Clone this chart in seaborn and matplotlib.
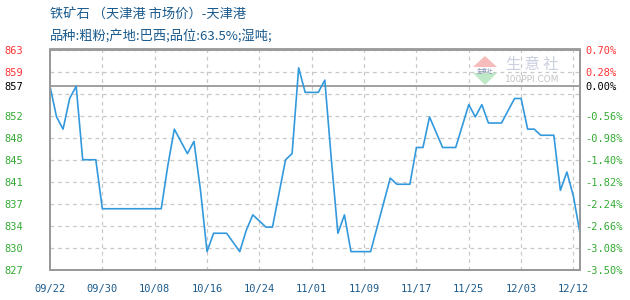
import numpy as np
import pandas as pd
import matplotlib
matplotlib.use("Agg")
import matplotlib.pyplot as plt
import seaborn as sns
from matplotlib.patches import Polygon

# ---------------- data ----------------
title_main = "铁矿石 （天津港 市场价）-天津港"
title_sub = "品种:粗粉;产地:巴西;品位:63.5%;湿吨;"

prices = [857, 852, 850, 855, 857, 845, 845, 845, 837, 837,
          837, 837, 837, 837, 837, 837, 837, 837, 844, 850,
          848, 846, 848, 840, 830, 833, 833, 833, 831.5, 830,
          833.5, 836, 835, 834, 834, 839.5, 845, 846, 860, 856,
          856, 856, 858, 845, 833, 836, 830, 830, 830, 830,
          834, 838, 842, 841, 841, 841, 847, 847, 852, 849.5,
          847, 847, 847, 850.5, 854, 852, 854, 851, 851, 851,
          853, 855, 855, 850, 850, 849, 849, 849, 840, 843,
          839, 833]

date_labels = ["09/22", "09/30", "10/08", "10/16", "10/24", "11/01",
               "11/09", "11/17", "11/25", "12/03", "12/12"]
date_label_index = [0, 8, 16, 24, 32, 40, 48, 56, 64, 72, 80]

base_price = 857
grid_values = [827, 830.6, 834.2, 837.8, 841.4, 845, 848.6, 852.2, 855.8, 859.4, 863]
left_tick_values = [827, 830.6, 834.2, 837.8, 841.4, 845, 848.6, 852.2, 857, 859.4, 863]
left_tick_labels = ["827", "830", "834", "837", "841", "845", "848", "852", "857", "859", "863"]
right_tick_labels = ["-3.50%", "-3.08%", "-2.66%", "-2.24%", "-1.82%", "-1.40%",
                     "-0.98%", "-0.56%", "0.00%", "0.28%", "0.70%"]

# ---------------- style ----------------
sns.set_style("white")
plt.rcParams['font.family'] = ['Noto Sans CJK SC', 'DejaVu Sans']

RED = "#ff3333"
GREEN = "#33aa33"
BLACK = "#000000"
BLUE_TXT = "#1a5a8c"
LINE = "#3399dd"
GRID = "#c8c8c8"
FRAME = "#999999"

fig = plt.figure(figsize=(6.3, 3.0), dpi=100)
ax = fig.add_axes([50/630, 1 - 270/300, 530/630, (270 - 49.5)/300])

df = pd.DataFrame({"idx": np.arange(len(prices)), "price": prices})

# grid
for g in grid_values:
    ax.axhline(g, color=GRID, lw=0.9, ls=(0, (3, 3)), zorder=1)
for xi in date_label_index[1:]:
    ax.axvline(xi, color=GRID, lw=0.9, ls=(0, (3, 3)), zorder=1)
ax.axhline(base_price, color=FRAME, lw=1.3, zorder=2)

sns.lineplot(data=df, x="idx", y="price", ax=ax, color=LINE, lw=1.2, zorder=3)

ax.set_xlim(0, len(prices) - 1)
ax.set_ylim(grid_values[0], grid_values[-1])
ax.set_xlabel("")
ax.set_ylabel("")

mono = "DejaVu Sans Mono"
ax.set_xticks(date_label_index)
ax.set_xticklabels(date_labels, fontsize=7.5, color=BLUE_TXT, family=mono)
ax.set_yticks(left_tick_values)
ax.set_yticklabels(left_tick_labels, fontsize=7.5, family=mono)
ax.tick_params(axis="both", length=0)
ax.tick_params(axis="y", pad=19)
ax.tick_params(axis="x", pad=10)

def label_color(v):
    if v > base_price:
        return RED
    if v == base_price:
        return BLACK
    return GREEN

for lbl, v in zip(ax.get_yticklabels(), left_tick_values):
    lbl.set_color(label_color(v))

ax2 = ax.twinx()
ax2.set_ylim(ax.get_ylim())
ax2.set_yticks(left_tick_values)
ax2.set_yticklabels(right_tick_labels, fontsize=7.5, family=mono)
ax2.tick_params(axis="y", length=0, pad=4)
for lbl, v in zip(ax2.get_yticklabels(), left_tick_values):
    lbl.set_color(label_color(v))

for a in (ax, ax2):
    for s in a.spines.values():
        s.set_color(FRAME)
        s.set_linewidth(1.3)

# titles
fig.text(50/630, 1 - 15.5/300, title_main, fontsize=9.5, color=BLUE_TXT, va="center", ha="left")
fig.text(50/630, 1 - 35.5/300, title_sub, fontsize=9.5, color=BLUE_TXT, va="center", ha="left")

# watermark
def px(x, y):
    return (x / 630, 1 - y / 300)

fig.patches.append(Polygon([px(473, 67), px(485, 56), px(497, 67)], closed=True,
                           transform=fig.transFigure, facecolor="#f6bcbc", edgecolor="none"))
fig.patches.append(Polygon([px(473, 73), px(485, 85), px(497, 73)], closed=True,
                           transform=fig.transFigure, facecolor="#bfe8c6", edgecolor="none"))
fig.text(485/630, 1 - 70/300, "生意社", fontsize=4, color="#8c9ab8", ha="center", va="center")
fig.text(532/630, 1 - 64/300, "生 意 社", fontsize=11, color="#c9cfdf", ha="center", va="center")
fig.text(532/630, 1 - 80/300, "100PPI.COM", fontsize=6.5, color="#c4c4c4", ha="center", va="center",
         family="DejaVu Sans")

fig.savefig("out.png", dpi=100)
